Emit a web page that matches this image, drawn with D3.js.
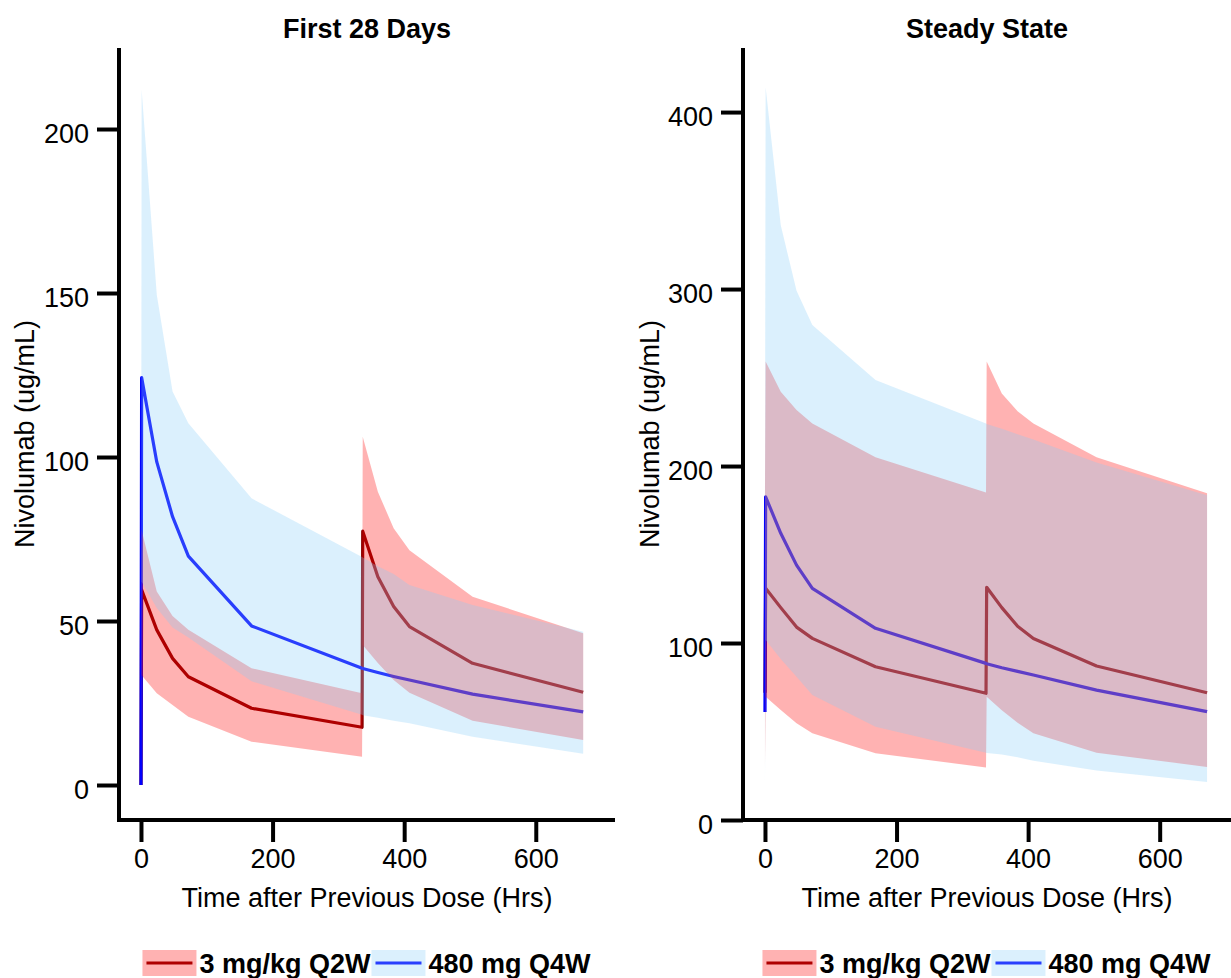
<!DOCTYPE html>
<html>
<head>
<meta charset="utf-8">
<script src="https://cdn.jsdelivr.net/npm/d3@7"></script>
<style>
  body { margin: 0; background: #fff; }
  svg { display: block; font-family: "Liberation Sans", Arial, sans-serif; }
</style>
</head>
<body>
<svg id="chart" width="1231" height="978"></svg>
<script>
// sampling times (hrs after previous dose)
const times = [0, 1, 24, 48, 72, 168, 336, 337, 360, 384, 408, 504, 672];

// First 28 Days
const firstRedMed  = [0, 59.5, 47.3, 38.6, 33.0, 23.4, 17.6, 77.4, 63.5, 54.4, 48.3, 37.1, 28.3];
const firstRedLo   = [0, 33.5, 28.0, 24.4, 20.8, 13.2, 8.6, 42.7, 37.2, 32.0, 28.1, 19.6, 13.7];
const firstRedHi   = [0, 77.7, 59.0, 51.5, 47.3, 35.6, 28.0, 106.2, 89.4, 78.3, 71.6, 57.4, 46.3];
const firstBlueMed = [0, 124.2, 98.5, 81.8, 69.8, 48.5, 35.6, 35.5, 34.3, 33.1, 32.0, 27.7, 22.3];
const firstBlueLo  = [0, 62.0, 54.0, 48.0, 45.0, 31.6, 21.4, 21.3, 20.5, 19.6, 18.8, 14.7, 9.5];
const firstBlueHi  = [0, 212.0, 149.5, 120.0, 110.3, 87.4, 69.5, 69.4, 66.7, 64.3, 61.0, 54.9, 46.7];

// Steady State
const ssRedMed  = [71.9, 131.0, 120.0, 109.0, 102.6, 86.6, 71.6, 131.5, 120.0, 109.5, 102.6, 87.0, 71.9];
const ssRedLo   = [30.0, 69.7, 62.1, 54.6, 49.0, 37.7, 29.7, 69.7, 62.0, 55.0, 49.0, 38.0, 30.0];
const ssRedHi   = [185.0, 259.0, 242.0, 231.6, 224.0, 205.0, 185.0, 259.0, 241.0, 231.0, 224.0, 205.0, 184.6];
const ssBlueMed = [61.0, 182.6, 162.0, 144.0, 130.9, 108.3, 88.5, 88.3, 86.0, 84.0, 81.9, 73.4, 61.2];
const ssBlueLo  = [21.5, 101.7, 91.0, 81.0, 70.6, 52.7, 38.0, 37.9, 37.0, 35.5, 33.5, 28.0, 21.5];
const ssBlueHi  = [183.0, 414.0, 336.0, 299.0, 279.7, 248.6, 224.0, 223.8, 221.0, 218.0, 215.0, 202.0, 183.5];

const xTicks = [0, 200, 400, 600];
const firstYTicks = [0, 50, 100, 150, 200];
const ssYTicks = [0, 100, 200, 300, 400];

const seriesNames = ["3 mg/kg Q2W", "480 mg Q4W"];
const lineColors = ["#8B0000", "#0000FF"];
const fillColors = ["#FF0000", "#87CEFA"];

const rows = (med, lo, hi) => times.map((t, i) => ({ t, med: med[i], lo: lo[i], hi: hi[i] }));

const panels = [
  {
    title: "First 28 Days", left: 119, right: 615, xDom: [-33.4, 720.4],
    yDom: [-10.67, 224.7], yTicks: firstYTicks, ylabX: 34,
    series: [rows(firstRedMed, firstRedLo, firstRedHi), rows(firstBlueMed, firstBlueLo, firstBlueHi)]
  },
  {
    title: "Steady State", left: 743, right: 1231, xDom: [-33.4, 708.4],
    yDom: [0, 436.2], yTicks: ssYTicks, ylabX: 659,
    series: [rows(ssRedMed, ssRedLo, ssRedHi), rows(ssBlueMed, ssBlueLo, ssBlueHi)]
  }
];

const plotTop = 48, plotBottom = 820, fs = 27;
const svg = d3.select("#chart");

panels.forEach(p => {
  const x = d3.scaleLinear().domain(p.xDom).range([p.left, p.right]);
  const y = d3.scaleLinear().domain(p.yDom).range([plotBottom, plotTop]);
  const g = svg.append("g");

  // lines first, ribbons on top (as in the original)
  p.series.forEach((s, i) => {
    g.append("path")
      .datum(s)
      .attr("fill", "none")
      .attr("stroke", lineColors[i])
      .attr("stroke-width", 3.2)
      .attr("stroke-linejoin", "round")
      .attr("d", d3.line().x(d => x(d.t)).y(d => y(d.med)));
  });
  p.series.forEach((s, i) => {
    g.append("path")
      .datum(s)
      .attr("fill", fillColors[i])
      .attr("fill-opacity", 0.3)
      .attr("d", d3.area().x(d => x(d.t)).y0(d => y(d.lo)).y1(d => y(d.hi)));
  });

  // axes
  const yAxis = g.append("g")
    .attr("transform", `translate(${p.left},0)`)
    .call(d3.axisLeft(y).tickValues(p.yTicks).tickSize(22).tickSizeOuter(0).tickPadding(8));
  const xAxis = g.append("g")
    .attr("transform", `translate(0,${plotBottom})`)
    .call(d3.axisBottom(x).tickValues(xTicks).tickSize(22).tickSizeOuter(0).tickPadding(7));

  [yAxis, xAxis].forEach(a => {
    a.select(".domain").remove();
    a.selectAll(".tick line").attr("stroke", "#000").attr("stroke-width", 4);
    a.selectAll(".tick text").attr("fill", "#000").style("font-size", fs + "px")
      .style("font-family", "'Liberation Sans', Arial, sans-serif");
  });
  yAxis.selectAll(".tick text").attr("dy", "0.5em");

  g.append("path")
    .attr("d", `M${p.left},${plotTop}V${plotBottom}H${p.right}`)
    .attr("fill", "none")
    .attr("stroke", "#000")
    .attr("stroke-width", 4)
    .attr("stroke-linecap", "butt")
    .attr("stroke-linejoin", "miter");

  const cx = (p.left + p.right) / 2;
  g.append("text")
    .attr("x", cx).attr("y", 38)
    .attr("text-anchor", "middle")
    .style("font-size", fs + "px").style("font-weight", "bold")
    .text(p.title);

  g.append("text")
    .attr("x", cx).attr("y", 907)
    .attr("text-anchor", "middle")
    .style("font-size", fs + "px")
    .text("Time after Previous Dose (Hrs)");

  g.append("text")
    .attr("transform", `translate(${p.ylabX},434) rotate(-90)`)
    .attr("text-anchor", "middle")
    .style("font-size", fs + "px")
    .text("Nivolumab (ug/mL)");

  // legend
  const leg = g.append("g");
  let off = 0;
  seriesNames.forEach((name, i) => {
    const item = leg.append("g").attr("transform", `translate(${off},0)`);
    item.append("line")
      .attr("x1", 4).attr("x2", 50).attr("y1", 963).attr("y2", 963)
      .attr("stroke", lineColors[i]).attr("stroke-width", 3.2);
    item.append("rect")
      .attr("x", 0).attr("y", 950).attr("width", 54).attr("height", 26)
      .attr("fill", fillColors[i]).attr("fill-opacity", 0.3);
    const t = item.append("text")
      .attr("x", 57).attr("y", 973)
      .style("font-size", fs + "px").style("font-weight", "bold")
      .text(name);
    off += 57 + t.node().getComputedTextLength() + 1;
  });
  leg.attr("transform", `translate(${cx - off / 2},0)`);
});
</script>
</body>
</html>
